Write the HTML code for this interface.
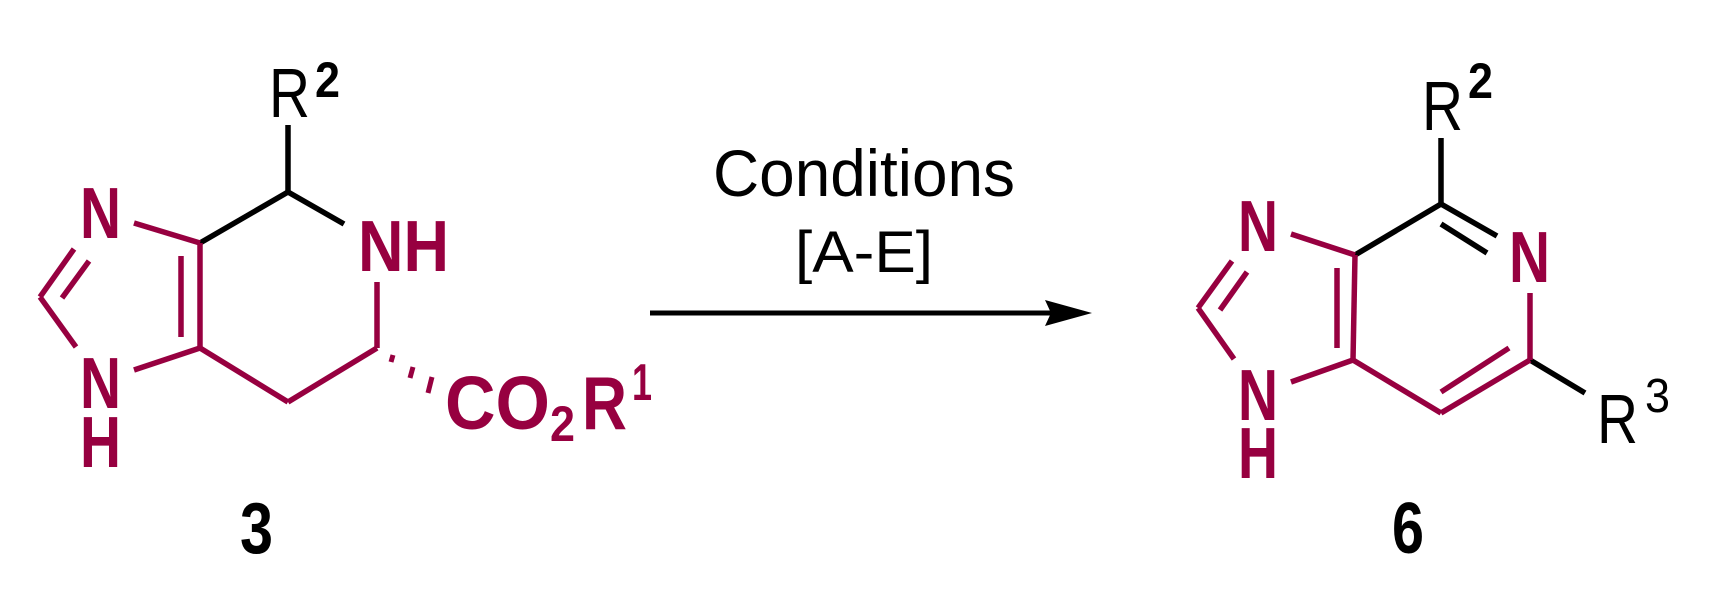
<!DOCTYPE html>
<html><head><meta charset="utf-8"><style>
html,body{margin:0;padding:0;background:#fff;}
svg{display:block;}
</style></head><body>
<svg width="1711" height="598" viewBox="0 0 1711 598" xmlns="http://www.w3.org/2000/svg">
<g stroke-width="5.5" stroke-linecap="butt" fill="none">
<g stroke="#000">
<line x1="288" y1="125" x2="288" y2="192"/>
<line x1="288" y1="192" x2="200" y2="243"/>
<line x1="288" y1="192" x2="344" y2="224"/>
</g>
<g stroke="#970040">
<line x1="134" y1="223" x2="200" y2="243"/>
<line x1="200" y1="243" x2="200" y2="348"/>
<line x1="181" y1="256" x2="181" y2="337"/>
<line x1="74" y1="249" x2="40" y2="297"/>
<line x1="89" y1="261" x2="62" y2="298"/>
<line x1="40" y1="297" x2="76" y2="347"/>
<line x1="134" y1="370" x2="200" y2="348"/>
<line x1="200" y1="348" x2="288" y2="402"/>
<line x1="288" y1="402" x2="377" y2="348"/>
<line x1="377" y1="348" x2="377" y2="282"/>
<line x1="393" y1="355" x2="391" y2="362" stroke-width="5"/>
<line x1="413" y1="367" x2="410" y2="378" stroke-width="5"/>
<line x1="432" y1="377" x2="428" y2="393" stroke-width="5"/>
</g>
<g stroke="#000">
<line x1="1441" y1="138" x2="1441" y2="204"/>
<line x1="1441" y1="204" x2="1355" y2="255"/>
<line x1="1441" y1="204" x2="1497" y2="236"/>
<line x1="1441" y1="224" x2="1487" y2="253"/>
<line x1="1530" y1="360" x2="1585" y2="393"/>
</g>
<g stroke="#970040">
<line x1="1291" y1="234" x2="1355" y2="255"/>
<line x1="1355" y1="255" x2="1353" y2="360"/>
<line x1="1337" y1="268" x2="1337" y2="348"/>
<line x1="1232" y1="261" x2="1198" y2="308"/>
<line x1="1247" y1="272" x2="1220" y2="310"/>
<line x1="1198" y1="308" x2="1234" y2="359"/>
<line x1="1291" y1="382" x2="1353" y2="360"/>
<line x1="1353" y1="360" x2="1441" y2="413"/>
<line x1="1441" y1="413" x2="1530" y2="360"/>
<line x1="1441" y1="392" x2="1509" y2="348"/>
<line x1="1530" y1="360" x2="1530" y2="293"/>
</g>
<line x1="650" y1="313" x2="1052" y2="313" stroke="#000" stroke-width="5"/>
</g>
<polygon points="1092,313 1045,300 1051,313 1045,326" fill="#000"/>

<g font-family="Liberation Sans, Arial, sans-serif">
<g fill="#970040" font-weight="bold" font-size="72">
<text x="80" y="238" textLength="41" lengthAdjust="spacingAndGlyphs">N</text>
<text x="80" y="408" textLength="41" lengthAdjust="spacingAndGlyphs">N</text>
<text x="80" y="467" textLength="41" lengthAdjust="spacingAndGlyphs">H</text>
<text x="358" y="271" textLength="91" lengthAdjust="spacingAndGlyphs">NH</text>
<text x="445" y="429" font-size="75" textLength="105" lengthAdjust="spacingAndGlyphs">CO</text>
<text x="550" y="441" font-size="50" textLength="25" lengthAdjust="spacingAndGlyphs">2</text>
<text x="582" y="429" font-size="75" textLength="45" lengthAdjust="spacingAndGlyphs">R</text>
<text x="632" y="400" font-size="52" textLength="20" lengthAdjust="spacingAndGlyphs">1</text>
<text x="1238" y="251" textLength="40" lengthAdjust="spacingAndGlyphs">N</text>
<text x="1238" y="420" textLength="40" lengthAdjust="spacingAndGlyphs">N</text>
<text x="1238" y="478" textLength="40" lengthAdjust="spacingAndGlyphs">H</text>
<text x="1509" y="282" textLength="41" lengthAdjust="spacingAndGlyphs">N</text>
</g>
<g fill="#000">
<text x="269" y="117" font-size="70" textLength="41" lengthAdjust="spacingAndGlyphs">R</text>
<text x="315" y="97" font-size="50" font-weight="bold" textLength="25" lengthAdjust="spacingAndGlyphs">2</text>
<text x="1422" y="130" font-size="70" textLength="41" lengthAdjust="spacingAndGlyphs">R</text>
<text x="1468" y="98" font-size="50" font-weight="bold" textLength="25" lengthAdjust="spacingAndGlyphs">2</text>
<text x="1597" y="443" font-size="70" textLength="41" lengthAdjust="spacingAndGlyphs">R</text>
<text x="1645" y="412" font-size="48" textLength="25" lengthAdjust="spacingAndGlyphs">3</text>
<text x="713" y="196" font-size="66" textLength="302" lengthAdjust="spacingAndGlyphs">Conditions</text>
<text x="795" y="272" font-size="58" textLength="138" lengthAdjust="spacingAndGlyphs">[A-E]</text>
<text x="240" y="553" font-size="72" font-weight="bold" textLength="33" lengthAdjust="spacingAndGlyphs">3</text>
<text x="1392" y="553" font-size="72" font-weight="bold" textLength="32" lengthAdjust="spacingAndGlyphs">6</text>
</g>
</g>
</svg>
</body></html>
